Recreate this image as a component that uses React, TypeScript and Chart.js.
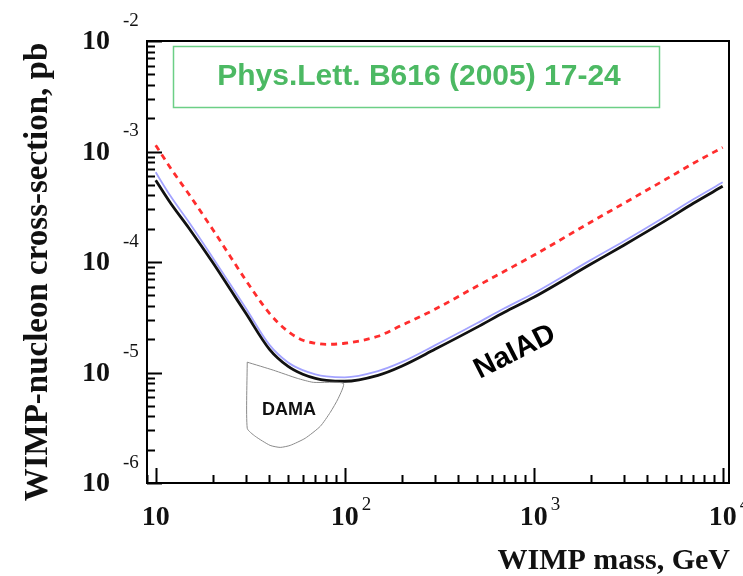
import React, { useEffect, useRef } from "react";
import { Chart, registerables } from "chart.js";
Chart.register(...registerables);

// WIMP mass (GeV)
const massGeV = [10, 12, 15, 20, 25, 30, 40, 50, 60, 70, 80, 100, 150, 200, 300, 500, 700, 1000, 2000, 3000, 5000, 7000, 10000];
// NaIAD limit (black, solid)
const naiadLimit = [5.49e-4, 3.4e-4, 2.02e-4, 9.94e-5, 5.54e-5, 3.43e-5, 1.62e-5, 1.14e-5, 9.63e-6, 8.86e-6, 8.5e-6, 8.33e-6, 9.43e-6, 1.14e-5, 1.62e-5, 2.56e-5, 3.51e-5, 4.79e-5, 9.53e-5, 1.42e-4, 2.38e-4, 3.4e-4, 4.84e-4];
// blue thin curve
const blueLimit = [6.48e-4, 3.93e-4, 2.29e-4, 1.1e-4, 6.15e-5, 3.81e-5, 1.78e-5, 1.24e-5, 1.05e-5, 9.63e-6, 9.24e-6, 9.05e-6, 1.03e-5, 1.24e-5, 1.76e-5, 2.79e-5, 3.81e-5, 5.21e-5, 1.04e-4, 1.54e-4, 2.59e-4, 3.69e-4, 5.26e-4];
// red dashed curve
const redLimit = [1.14e-3, 7.05e-4, 4.1e-4, 1.98e-4, 1.1e-4, 6.83e-5, 3.43e-5, 2.36e-5, 1.96e-5, 1.84e-5, 1.8e-5, 1.84e-5, 2.13e-5, 2.67e-5, 3.73e-5, 6.03e-5, 8.24e-5, 1.15e-4, 2.29e-4, 3.4e-4, 5.6e-4, 7.82e-4, 1.09e-3];
// DAMA region contour
const damaMass = [30.5, 41.9, 56.1, 68.2, 98.4, 92.5, 83.9, 74.3, 61.8, 51.5, 45.6, 40.3, 33.6, 30.5, 30.5];
const damaSigma = [1.24e-5, 1.05e-5, 8.86e-6, 8.15e-6, 7.98e-6, 5.84e-6, 4.36e-6, 3.26e-6, 2.54e-6, 2.19e-6, 2.1e-6, 2.19e-6, 2.65e-6, 3.13e-6, 1.24e-5];

// axis decades
const xDecades = [1, 2, 3, 4];
const xExpLabels = ["", "2", "3", "4"];
const yDecades = [-2, -3, -4, -5, -6];
const yExpLabels = ["-2", "-3", "-4", "-5", "-6"];

const xMin = 8.995;
const xMax = 10800;
const yMin = 1e-6;
const yMax = 1e-2;

const titleText = "Phys.Lett. B616 (2005) 17-24";
const xTitle = "WIMP mass, GeV";
const yTitle = "WIMP-nucleon cross-section, pb";
const naiadLabel = { text: "NaIAD", m: 796, s: 1.53e-5 };
const damaLabel = { text: "DAMA", m: 50.7, s: 4.58e-6 };

const pts = (xs: number[], ys: number[]) => xs.map((x, i) => ({ x, y: ys[i] }));

const overlay = {
  id: "overlay",
  afterDraw(chart: any) {
    const ctx = chart.ctx;
    const a = chart.chartArea;
    const xs = chart.scales.x;
    const ys = chart.scales.y;
    ctx.save();
    // frame
    ctx.strokeStyle = "#000";
    ctx.lineWidth = 2;
    ctx.strokeRect(a.left, a.top, a.right - a.left, a.bottom - a.top);

    const major = 15;
    const minor = 8;
    ctx.lineWidth = 2;
    ctx.beginPath();
    // x ticks
    for (let d = 0; d <= 4; d++) {
      for (let k = 1; k <= 9; k++) {
        const v = k * Math.pow(10, d);
        if (v < xMin || v > xMax) continue;
        const px = Math.round(xs.getPixelForValue(v)) + 0.5;
        const len = k === 1 ? major : minor;
        ctx.moveTo(px, a.bottom);
        ctx.lineTo(px, a.bottom - len);
      }
    }
    // y ticks
    for (let d = -6; d <= -2; d++) {
      for (let k = 1; k <= 9; k++) {
        const v = k * Math.pow(10, d);
        if (v < yMin * 0.999 || v > yMax * 1.001) continue;
        const py = Math.round(ys.getPixelForValue(v)) + 0.5;
        const len = k === 1 ? major : minor;
        ctx.moveTo(a.left, py);
        ctx.lineTo(a.left + len, py);
      }
    }
    ctx.stroke();

    // tick labels
    ctx.fillStyle = "#111";
    const baseFont = "bold 28px 'Liberation Serif', serif";
    const expFont = "19px 'Liberation Serif', serif";
    xDecades.forEach((d, i) => {
      const px = xs.getPixelForValue(Math.pow(10, d));
      ctx.font = baseFont;
      ctx.textAlign = "center";
      ctx.textBaseline = "middle";
      ctx.fillText("10", px, a.bottom + 35);
      const w = ctx.measureText("10").width;
      if (xExpLabels[i]) {
        ctx.font = expFont;
        ctx.textAlign = "left";
        ctx.fillText(xExpLabels[i], px + w / 2 + 3, a.bottom + 22);
      }
    });
    yDecades.forEach((d, i) => {
      const py = ys.getPixelForValue(Math.pow(10, d));
      ctx.font = baseFont;
      ctx.textAlign = "right";
      ctx.textBaseline = "middle";
      ctx.fillText("10", a.left - 37, py + 1);
      ctx.font = expFont;
      ctx.textAlign = "left";
      ctx.fillText(yExpLabels[i], a.left - 24, py - 20);
    });

    // axis titles
    ctx.font = "bold 30px 'Liberation Serif', serif";
    ctx.textAlign = "right";
    ctx.textBaseline = "alphabetic";
    ctx.fillText(xTitle, a.right + 1, a.bottom + 86);

    ctx.save();
    ctx.translate(47, (a.top + a.bottom) / 2 + 10);
    ctx.rotate(-Math.PI / 2);
    ctx.font = "bold 33px 'Liberation Serif', serif";
    ctx.textAlign = "center";
    ctx.fillText(yTitle, 0, 0);
    ctx.restore();

    // green reference box
    ctx.strokeStyle = "#6ccf86";
    ctx.lineWidth = 1.5;
    ctx.strokeRect(a.left + 26.5, a.top + 5.5, 486, 61);
    ctx.fillStyle = "#4cb963";
    ctx.font = "bold 30px 'Liberation Sans', sans-serif";
    ctx.textAlign = "center";
    ctx.textBaseline = "middle";
    ctx.fillText(titleText, a.left + 272, a.top + 36);

    // NaIAD label
    ctx.save();
    ctx.translate(xs.getPixelForValue(naiadLabel.m), ys.getPixelForValue(naiadLabel.s));
    ctx.rotate((-27 * Math.PI) / 180);
    ctx.fillStyle = "#000";
    ctx.font = "bold 29px 'Liberation Sans', sans-serif";
    ctx.textAlign = "center";
    ctx.textBaseline = "middle";
    ctx.fillText(naiadLabel.text, 0, 0);
    ctx.restore();

    // DAMA label
    ctx.fillStyle = "#111";
    ctx.font = "bold 18px 'Liberation Sans', sans-serif";
    ctx.textAlign = "center";
    ctx.textBaseline = "middle";
    ctx.fillText(damaLabel.text, xs.getPixelForValue(damaLabel.m), ys.getPixelForValue(damaLabel.s));
    ctx.restore();
  },
};

export default function App() {
  const ref = useRef<HTMLCanvasElement | null>(null);
  useEffect(() => {
    if (!ref.current) return;
    const chart = new Chart(ref.current, {
      type: "line",
      data: {
        datasets: [
          {
            label: "DAMA",
            data: pts(damaMass, damaSigma),
            borderColor: "#8a8a8a",
            borderWidth: 1,
            pointRadius: 0,
            tension: 0.2,
            fill: false,
          },
          {
            label: "red",
            data: pts(massGeV, redLimit),
            borderColor: "#ff2d2d",
            borderWidth: 2.8,
            borderDash: [6, 5],
            pointRadius: 0,
            cubicInterpolationMode: "monotone",
            fill: false,
          },
          {
            label: "NaIAD",
            data: pts(massGeV, naiadLimit),
            borderColor: "#111",
            borderWidth: 2.8,
            pointRadius: 0,
            cubicInterpolationMode: "monotone",
            fill: false,
          },
          {
            label: "blue",
            data: pts(massGeV, blueLimit),
            borderColor: "#a3a3ff",
            borderWidth: 1.8,
            pointRadius: 0,
            cubicInterpolationMode: "monotone",
            fill: false,
          },
        ],
      },
      options: {
        animation: false,
        responsive: false,
        devicePixelRatio: 1,
        layout: { padding: { left: 147, right: 14, top: 41, bottom: 93 } },
        plugins: { legend: { display: false }, tooltip: { enabled: false }, title: { display: false } },
        scales: {
          x: { type: "logarithmic", min: xMin, max: xMax, display: false },
          y: { type: "logarithmic", min: yMin, max: yMax, display: false },
        },
      },
      plugins: [overlay],
    } as any);
    return () => chart.destroy();
  }, []);
  return (
    <div style={{ position: "absolute", left: 0, top: 0, width: 743, height: 576, background: "#fff" }}>
      <canvas ref={ref} width={743} height={576} />
    </div>
  );
}
